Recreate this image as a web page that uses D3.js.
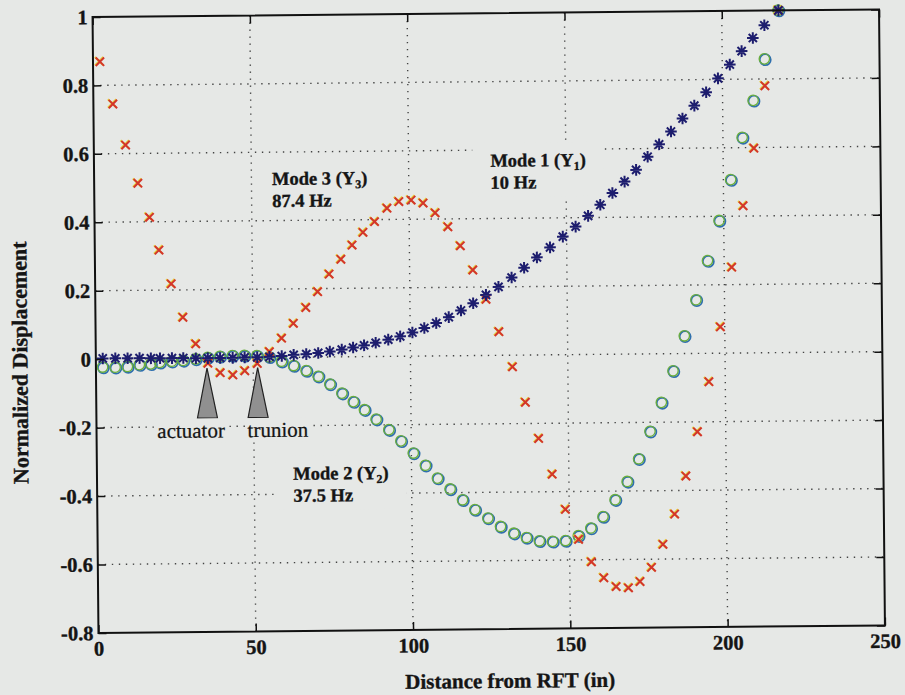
<!DOCTYPE html>
<html>
<head>
<meta charset="utf-8">
<script src="https://cdn.jsdelivr.net/npm/d3@7"></script>
<style>
  body { margin: 0; background: #e6e8e6; }
  svg { display: block; }
  text { font-family: "Liberation Serif", "Times New Roman", serif; fill: #151515; }
</style>
</head>
<body>
<div id="chart"></div>
<script>
// stations along the boom (in)
const stations = [2.2, 6.2, 10.1, 13.9, 17.5, 20.4, 24.2, 27.8, 31.8, 35.6,
    39.5, 43.5, 47.3, 51.3, 55.2, 59.1, 62.9, 66.9, 70.7, 74.4,
    78.2, 81.8, 85.3, 89.0, 93.0, 96.8, 100.7, 104.5, 108.3, 112.3,
    116.2, 120.1, 124.2, 128.2, 132.4, 136.4, 140.5, 144.7, 148.8, 152.9,
    156.9, 160.8, 164.7, 168.6, 172.3, 176.0, 179.7, 183.5, 187.2, 191.0,
    194.8, 198.6, 202.4, 206.2, 209.8, 213.5, 218.0];

// Mode 1 (Y1) 10 Hz - asterisks
const mode1 = [0.002, 0.002, 0.002, 0.002, 0.001, 0.001, 0.001, 0.001, 0.000, 0.000,
    0.000, 0.000, 0.001, 0.001, 0.002, 0.004, 0.007, 0.009, 0.012, 0.016,
    0.021, 0.027, 0.033, 0.040, 0.049, 0.058, 0.069, 0.082, 0.096, 0.113,
    0.132, 0.153, 0.177, 0.200, 0.227, 0.255, 0.285, 0.314, 0.345, 0.374,
    0.405, 0.437, 0.471, 0.504, 0.538, 0.576, 0.612, 0.649, 0.687, 0.724,
    0.763, 0.803, 0.843, 0.882, 0.920, 0.957, 1.000];

// Mode 2 (Y2) 37.5 Hz - circles
const mode2 = [-0.024, -0.025, -0.023, -0.018, -0.016, -0.012, -0.009, -0.007, -0.003, 0.001,
    0.004, 0.006, 0.006, 0.005, 0.001, -0.012, -0.025, -0.040, -0.057, -0.080,
    -0.107, -0.132, -0.156, -0.184, -0.215, -0.248, -0.284, -0.320, -0.358, -0.390,
    -0.422, -0.451, -0.476, -0.501, -0.521, -0.534, -0.544, -0.546, -0.544, -0.530,
    -0.508, -0.475, -0.426, -0.373, -0.307, -0.227, -0.143, -0.051, 0.051, 0.156,
    0.270, 0.387, 0.506, 0.629, 0.737, 0.858, 1.000];

// Mode 3 (Y3) 87.4 Hz - crosses
const mode3 = [0.869, 0.745, 0.625, 0.513, 0.413, 0.317, 0.218, 0.120, 0.042, -0.015,
    -0.043, -0.050, -0.038, -0.017, 0.017, 0.056, 0.099, 0.145, 0.191, 0.242,
    0.285, 0.326, 0.363, 0.394, 0.433, 0.452, 0.456, 0.447, 0.418, 0.377,
    0.321, 0.250, 0.164, 0.069, -0.034, -0.138, -0.244, -0.349, -0.452, -0.540,
    -0.606, -0.653, -0.679, -0.683, -0.665, -0.624, -0.557, -0.469, -0.358, -0.229,
    -0.083, 0.077, 0.251, 0.430, 0.598, 0.780, 1.000];

const xTicks = [0, 50, 100, 150, 200, 250];
const yTicks = [-0.8, -0.6, -0.4, -0.2, 0, 0.2, 0.4, 0.6, 0.8, 1];

const modeNames = ["Mode 1", "Mode 2", "Mode 3"];
const modeSubs = ["1", "2", "3"];
const modeFreqs = ["10 Hz", "37.5 Hz", "87.4 Hz"];
const modeLabelX = [126, 62.4, 56.5];
const modeLabelY = [0.551, -0.358, 0.504];

const supportNames = ["actuator", "trunion"];
const supportX = [35.3, 51.4];
const supportLabelX = [19.3, 48.0];

const W = 905, H = 695;
const paper = "#e6e8e6";
const ink = "#141414";

const svg = d3.select("#chart").append("svg")
    .attr("width", W)
    .attr("height", H);

svg.append("rect").attr("width", W).attr("height", H).attr("fill", paper);

// the page in the photo is turned a little
const g = svg.append("g").attr("transform", "rotate(-0.55, 488, 321)");

const x = d3.scaleLinear().domain([0, 250]).range([95.5, 882]);
const y = d3.scaleLinear().domain([-0.8, 1]).range([629.2, 13.2]);

// grid
const grid = g.append("g")
    .attr("stroke", "#444")
    .attr("stroke-width", 1.4)
    .attr("stroke-dasharray", "1.4,5.6");

grid.selectAll(".vgrid")
    .data(xTicks.filter(d => d > 0 && d < 250))
    .enter().append("line")
    .attr("x1", d => x(d)).attr("x2", d => x(d))
    .attr("y1", y(1)).attr("y2", y(-0.8));

grid.selectAll(".hgrid")
    .data(yTicks.filter(d => d > -0.8 && d < 1))
    .enter().append("line")
    .attr("x1", x(0)).attr("x2", x(250))
    .attr("y1", d => y(d)).attr("y2", d => y(d));

// bold print looks a bit heavier in the scan
function inked(sel) {
    sel.attr("stroke", ink).attr("stroke-width", 0.35);
}

// mode labels (with paper boxes hiding the grid)
const labels = g.append("g");
modeNames.forEach((name, i) => {
    let lg = labels.append("g");
    let t1 = lg.append("text")
        .attr("x", x(modeLabelX[i]))
        .attr("y", y(modeLabelY[i]))
        .attr("font-size", 18.5)
        .attr("font-weight", "bold")
        .call(inked);
    t1.append("tspan").text(name + " (Y");
    t1.append("tspan").attr("font-size", 12).attr("dy", 4).text(modeSubs[i]);
    t1.append("tspan").attr("dy", -4).text(")");
    lg.append("text")
        .attr("x", x(modeLabelX[i]))
        .attr("y", y(modeLabelY[i]) + 22)
        .attr("font-size", 18.5)
        .attr("font-weight", "bold")
        .call(inked)
        .text(modeFreqs[i]);
    if (i < 2) {
        let b = lg.node().getBBox();
        lg.insert("rect", "text")
            .attr("x", b.x - 18)
            .attr("y", b.y - 8)
            .attr("width", b.width + 36)
            .attr("height", b.height + 12)
            .attr("fill", paper);
    }
});

// supports
const sup = g.append("g");
supportNames.forEach((name, i) => {
    let cx = x(supportX[i]);
    let top = y(-0.029), base = y(-0.175);
    sup.append("path")
        .attr("d", `M${cx},${top} L${cx + 10},${base} L${cx - 10},${base} Z`)
        .attr("fill", "#909090")
        .attr("stroke", "#222")
        .attr("stroke-width", 1.2);
    let lg = sup.append("g");
    lg.append("text")
        .attr("x", x(supportLabelX[i]))
        .attr("y", y(-0.232))
        .attr("font-size", 21)
        .attr("stroke", ink)
        .attr("stroke-width", 0.25)
        .text(name);
    let b = lg.node().getBBox();
    lg.insert("rect", "text")
        .attr("x", b.x - 2).attr("y", b.y)
        .attr("width", b.width + 4).attr("height", b.height)
        .attr("fill", paper);
});

// markers
const pts = stations.map((s, i) => ({s: s, m1: mode1[i], m2: mode2[i], m3: mode3[i]}));

const circles = g.append("g").attr("fill", "none");
circles.selectAll(".c2b")
    .data(pts).enter().append("circle")
    .attr("cx", d => x(d.s) + 0.6).attr("cy", d => y(d.m2) + 0.6)
    .attr("r", 5.5)
    .attr("stroke", "#2f6fae").attr("stroke-width", 1.7);
circles.selectAll(".c2g")
    .data(pts).enter().append("circle")
    .attr("cx", d => x(d.s) - 0.3).attr("cy", d => y(d.m2) - 0.3)
    .attr("r", 5.2)
    .attr("stroke", "#6aae3c").attr("stroke-width", 1.3);

const xs = 4.2;
const crosses = g.append("g").attr("stroke-width", 2).attr("fill", "none");
crosses.selectAll(".x3y")
    .data(pts).enter().append("path")
    .attr("d", d => {
        let px = x(d.s) - 0.8, py = y(d.m3) - 0.6;
        return `M${px - xs},${py - xs}L${px + xs},${py + xs}M${px - xs},${py + xs}L${px + xs},${py - xs}`;
    })
    .attr("stroke", "#e6cf3a");
crosses.selectAll(".x3r")
    .data(pts).enter().append("path")
    .attr("d", d => {
        let px = x(d.s), py = y(d.m3);
        return `M${px - xs},${py - xs}L${px + xs},${py + xs}M${px - xs},${py + xs}L${px + xs},${py - xs}`;
    })
    .attr("stroke", "#d3352b");

const ar = 5.8, ad = ar * Math.SQRT1_2;
g.append("g").selectAll(".a1")
    .data(pts).enter().append("path")
    .attr("d", d => {
        let px = x(d.s), py = y(d.m1);
        return `M${px - ar},${py}L${px + ar},${py}M${px},${py - ar}L${px},${py + ar}` +
            `M${px - ad},${py - ad}L${px + ad},${py + ad}M${px - ad},${py + ad}L${px + ad},${py - ad}`;
    })
    .attr("stroke", "#1d1d6e")
    .attr("stroke-width", 2)
    .attr("fill", "none");

// axes (inward ticks, matlab style)
const fmt = d => String(d);

const xAxis = g.append("g")
    .attr("transform", `translate(0,${y(-0.8)})`)
    .call(d3.axisBottom(x).tickValues(xTicks).tickFormat(fmt).tickSizeInner(-8).tickSizeOuter(0).tickPadding(8));
const xTop = g.append("g")
    .attr("transform", `translate(0,${y(1)})`)
    .call(d3.axisTop(x).tickValues(xTicks).tickFormat("").tickSizeInner(-8).tickSizeOuter(0));
const yAxis = g.append("g")
    .attr("transform", `translate(${x(0)},0)`)
    .call(d3.axisLeft(y).tickValues(yTicks).tickFormat(fmt).tickSizeInner(-8).tickSizeOuter(0).tickPadding(5));
const yRight = g.append("g")
    .attr("transform", `translate(${x(250)},0)`)
    .call(d3.axisRight(y).tickValues(yTicks).tickFormat("").tickSizeInner(-8).tickSizeOuter(0));

[xAxis, xTop, yAxis, yRight].forEach(a => {
    a.select(".domain").remove();
    a.selectAll(".tick line").attr("stroke", "#111").attr("stroke-width", 1.5);
    a.selectAll(".tick text")
        .attr("font-family", "Liberation Serif, Times New Roman, serif")
        .attr("font-size", 20.5)
        .attr("font-weight", "bold")
        .attr("fill", ink)
        .call(inked);
});

g.append("rect")
    .attr("x", x(0)).attr("y", y(1))
    .attr("width", x(250) - x(0)).attr("height", y(-0.8) - y(1))
    .attr("fill", "none")
    .attr("stroke", "#111")
    .attr("stroke-width", 2);

// titles
g.append("text")
    .attr("x", (x(0) + x(250)) / 2 + 18)
    .attr("y", 688)
    .attr("text-anchor", "middle")
    .attr("font-size", 21)
    .attr("font-weight", "bold")
    .call(inked)
    .text("Distance from RFT (in)");

g.append("text")
    .attr("transform", `translate(27,${(y(1) + y(-0.8)) / 2 + 37}) rotate(-90)`)
    .attr("text-anchor", "middle")
    .attr("font-size", 22)
    .attr("font-weight", "bold")
    .call(inked)
    .text("Normalized Displacement");
</script>
</body>
</html>
